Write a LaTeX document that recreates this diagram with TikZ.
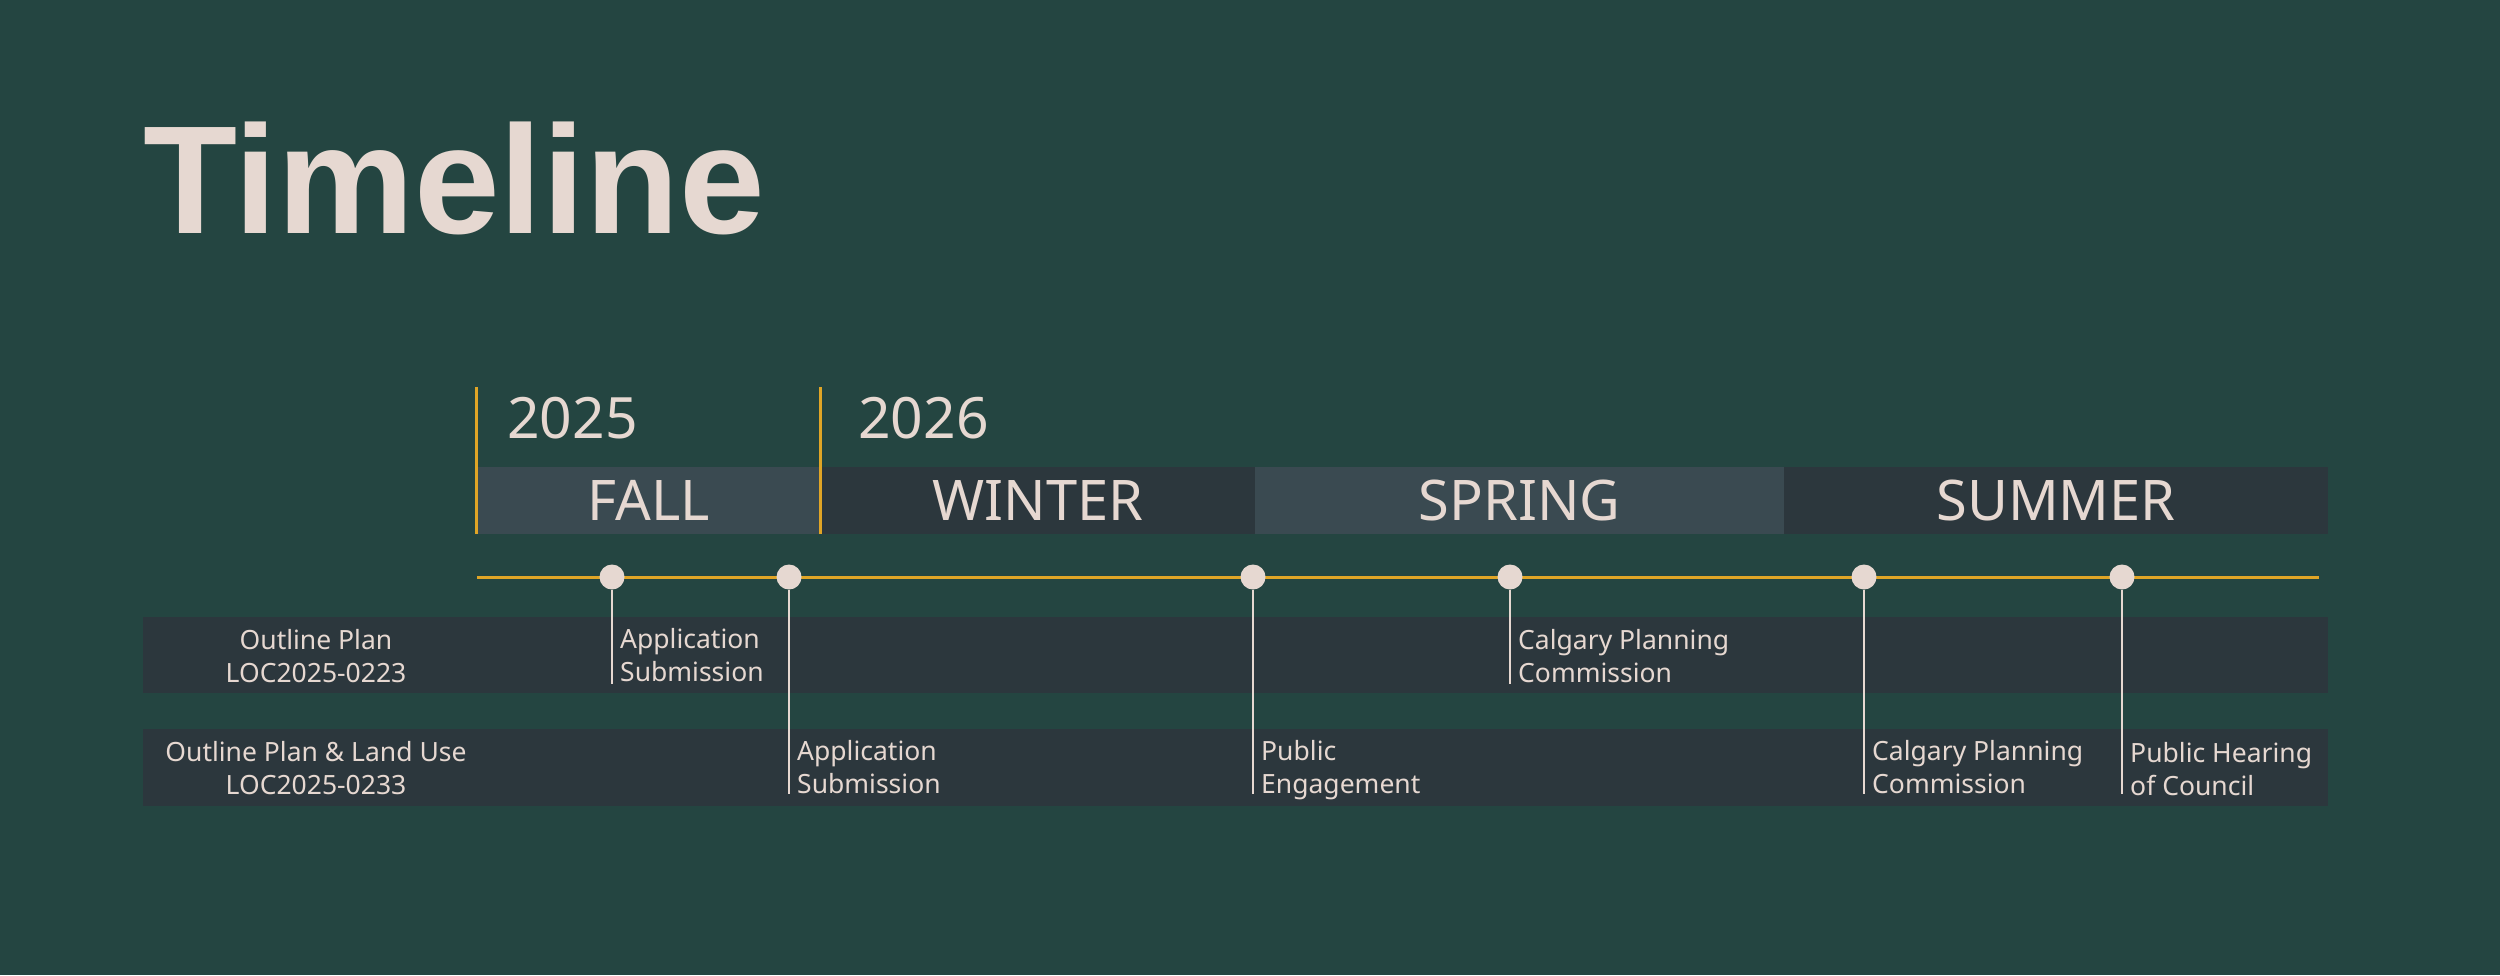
\documentclass[tikz,border=0pt]{standalone}
\usepackage{fontspec}
\setmainfont{Noto Sans}
\newfontfamily\titlefont{Liberation Sans}
\definecolor{bgteal}{HTML}{244541}
\definecolor{paper}{HTML}{E6D8D1}
\definecolor{amber}{HTML}{E0A526}
\definecolor{slatelight}{HTML}{3A4A51}
\definecolor{slatedark}{HTML}{2C373D}

\begin{document}
\begin{tikzpicture}[x=1pt,y=-1pt,
    season/.style={minimum height=67pt, inner sep=0pt, text=paper, text depth=0pt, font=\fontsize{56}{60}\selectfont},
    yearlabel/.style={anchor=base west, inner sep=0pt, text=paper, font=\fontsize{57}{60}\selectfont},
    yearmark/.style={draw=amber, line width=3pt},
    axis/.style={draw=amber, line width=3pt},
    rowbar/.style={fill=slatedark, minimum width=2185pt, inner sep=0pt},
    rowlabel/.style={align=center, inner sep=0pt, text=paper, font=\fontsize{26.5}{33}\selectfont},
    event/.style={anchor=north west, align=left, inner sep=0pt, text=paper, font=\fontsize{26.5}{33}\selectfont},
    dot/.style={circle, fill=paper, minimum size=25pt, inner sep=0pt},
    stem/.style={draw=paper, line width=2.5pt}]
    \fill[bgteal] (0,0) rectangle (2500,975);
    \useasboundingbox (0,0) rectangle (2500,975);
    \node[anchor=base west, inner sep=0pt, text=paper, font=\fontsize{154}{160}\titlefont\bfseries] (title) at (143,233) {Timeline};
    \node[season, fill=slatelight, minimum width=344pt] (fall) at (649,500.5) {FALL};
    \node[season, fill=slatedark, minimum width=434pt] (winter) at (1038,500.5) {WINTER};
    \node[season, fill=slatelight, minimum width=529pt] (spring) at (1519.5,500.5) {SPRING};
    \node[season, fill=slatedark, minimum width=544pt] (summer) at (2056,500.5) {SUMMER};
    \node[yearlabel] (y2025) at (507,438) {2025};
    \node[yearlabel] (y2026) at (858,438) {2026};
    \draw[yearmark] (fall.south west) -- ++(0,-147);
    \draw[yearmark] (winter.south west) -- ++(0,-147);
    \node[rowbar, minimum height=76pt] (row1) at (1235.5,655) {};
    \node[rowbar, minimum height=77pt] (row2) at (1235.5,767.5) {};
    \node[rowlabel] (lab1) at (316,656) {Outline Plan\\LOC2025-0223};
    \node[rowlabel] (lab2) at (316,768) {Outline Plan \& Land Use\\LOC2025-0233};
    \coordinate (tlstart) at (477,577);
    \coordinate (tlend) at (2319,577);
    \draw[axis] (tlstart) -- (tlend);
    \node[dot] (d1) at (612,577) {};
    \node[dot] (d2) at (789,577) {};
    \node[dot] (d3) at (1253,577) {};
    \node[dot] (d4) at (1510,577) {};
    \node[dot] (d5) at (1864,577) {};
    \node[dot] (d6) at (2122,577) {};
    \coordinate (s1) at (612,684);
    \coordinate (s2) at (789,794);
    \coordinate (s3) at (1253,794);
    \coordinate (s4) at (1510,684);
    \coordinate (s5) at (1864,794);
    \coordinate (s6) at (2122,794);
    \draw[stem] (d1.south) -- (s1);
    \draw[stem] (d2.south) -- (s2);
    \draw[stem] (d3.south) -- (s3);
    \draw[stem] (d4.south) -- (s4);
    \draw[stem] (d5.south) -- (s5);
    \draw[stem] (d6.south) -- (s6);
    \node[event] (e1) at (620,628) {Application\\Submission};
    \node[event] (e2) at (797,740) {Application\\Submission};
    \node[event] (e3) at (1261,740) {Public\\Engagement};
    \node[event] (e4) at (1518,629) {Calgary Planning\\Commission};
    \node[event] (e5) at (1872,740) {Calgary Planning\\Commission};
    \node[event] (e6) at (2130,742) {Public Hearing\\of Council};
\end{tikzpicture}
\end{document}
